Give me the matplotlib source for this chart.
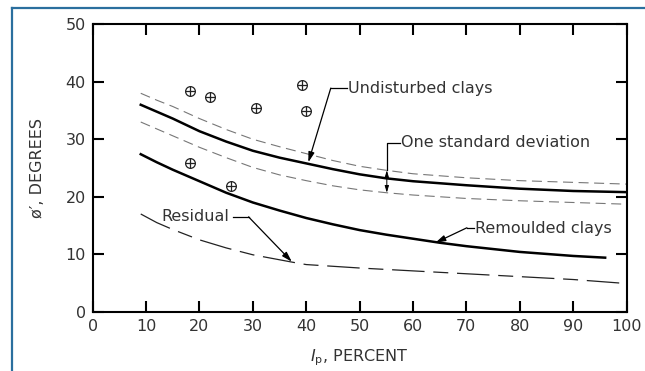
import matplotlib.pyplot as plt
from matplotlib.lines import Line2D

# Plasticity index (percent) and friction angle (degrees) for each curve
ip_und = [9, 12, 15, 20, 25, 30, 35, 40, 45, 50, 55, 60, 70, 80, 90, 100]
phi_und = [36.0, 34.8, 33.6, 31.4, 29.6, 28.0, 26.8, 25.8, 24.8, 23.9, 23.2, 22.7, 22.0, 21.4, 21.0, 20.8]
phi_und_hi = [38.0, 36.8, 35.7, 33.6, 31.7, 30.0, 28.7, 27.5, 26.3, 25.3, 24.6, 24.0, 23.3, 22.8, 22.5, 22.2]
phi_und_lo = [33.0, 31.8, 30.6, 28.6, 26.8, 25.1, 23.8, 22.8, 21.9, 21.2, 20.7, 20.3, 19.7, 19.3, 19.0, 18.7]

ip_rem = [9, 12, 15, 20, 25, 30, 35, 40, 45, 50, 55, 60, 65, 70, 80, 90, 96]
phi_rem = [27.4, 26.0, 24.7, 22.7, 20.7, 19.0, 17.6, 16.3, 15.2, 14.2, 13.4, 12.7, 12.0, 11.4, 10.4, 9.7, 9.4]

ip_res = [9, 12, 15, 20, 25, 30, 37.5, 40, 50, 60, 70, 80, 90, 100]
phi_res = [17.0, 15.5, 14.3, 12.5, 11.1, 9.9, 8.6, 8.2, 7.6, 7.1, 6.6, 6.1, 5.6, 4.9]

# Test results
ip_pts = [18.2, 22.0, 30.5, 39.3, 40.0, 18.2, 26.0]
phi_pts = [38.4, 37.4, 35.4, 39.4, 34.9, 25.9, 21.9]

ticks = list(range(0, 101, 10))
yticks = list(range(0, 51, 10))

txt = '#333333'
plt.rcParams['font.family'] = 'DejaVu Sans'

fig = plt.figure(figsize=(6.45, 3.71), dpi=100)
ax = fig.add_axes([92.7 / 645, (371 - 311.7) / 371, 533.8 / 645, 287.4 / 371])

# blue frame along the top and left edges
fig.add_artist(Line2D([12 / 645, 1], [1 - 8 / 371, 1 - 8 / 371], color='#2b6f9e', lw=1.6,
                      transform=fig.transFigure))
fig.add_artist(Line2D([12 / 645, 12 / 645], [0, 1 - 8 / 371], color='#2b6f9e', lw=1.6,
                      transform=fig.transFigure))

ax.plot(ip_und, phi_und, color='black', lw=1.8)
ax.plot(ip_und, phi_und_hi, color='#777777', lw=0.8, dashes=(9, 5))
ax.plot(ip_und, phi_und_lo, color='#777777', lw=0.8, dashes=(9, 5))
ax.plot(ip_rem, phi_rem, color='black', lw=1.8)
ax.plot(ip_res, phi_res, color='#222222', lw=0.9, dashes=(26, 7, 12, 7))

ax.plot(ip_pts, phi_pts, 'o', ms=7, mfc='none', mec='#222222', mew=0.9)
ax.plot(ip_pts, phi_pts, '+', ms=7, mec='#222222', mew=0.9)

# labels with leader lines
arr = dict(arrowstyle='-|>,head_length=0.6,head_width=0.18', color='black', lw=0.9,
           shrinkA=0, shrinkB=0)

ax.text(47.8, 38.9, 'Undisturbed clays', fontsize=11.5, color=txt, ha='left', va='center')
ax.plot([44.6, 47.6], [38.9, 38.9], color='black', lw=0.9)
ax.annotate('', xy=(40.4, 26.0), xytext=(44.6, 38.9), arrowprops=arr)

ax.text(57.7, 29.4, 'One standard deviation', fontsize=11.5, color=txt, ha='left', va='center')
ax.plot([57.5, 55.1, 55.1], [29.4, 29.4, 24.6], color='black', lw=0.9)
ax.annotate('', xy=(55.1, 20.7), xytext=(55.1, 24.6),
            arrowprops=dict(arrowstyle='<|-|>,head_length=0.4,head_width=0.12', color='black',
                            lw=0.7, shrinkA=0, shrinkB=0))

ax.text(71.7, 14.5, 'Remoulded clays', fontsize=11.5, color=txt, ha='left', va='center')
ax.plot([70.1, 71.5], [14.6, 14.6], color='black', lw=0.9)
ax.annotate('', xy=(64.2, 12.0), xytext=(70.1, 14.6), arrowprops=arr)

ax.text(12.9, 16.5, 'Residual', fontsize=11.5, color=txt, ha='left', va='center')
ax.plot([26.2, 29.2], [16.5, 16.5], color='black', lw=0.9)
ax.annotate('', xy=(37.3, 8.7), xytext=(29.2, 16.5), arrowprops=arr)

ax.set_xlim(0, 100)
ax.set_ylim(0, 50)
ax.set_xticks(ticks)
ax.set_yticks(yticks)
ax.tick_params(direction='in', length=8, width=1.5, top=True, right=True,
               labelsize=11.5, labelcolor=txt, pad=5)
for s in ax.spines.values():
    s.set_linewidth(1.5)

ax.set_xlabel('$I_\\mathrm{p}$, PERCENT', fontsize=11.5, color=txt, va='center')
ax.set_ylabel('\u00f8\u2032, DEGREES', fontsize=11.5, color=txt, va='center')
ax.xaxis.set_label_coords(0.5, -0.161)
ax.yaxis.set_label_coords(-0.1025, 0.5)

fig.savefig('out.png', dpi=100)
